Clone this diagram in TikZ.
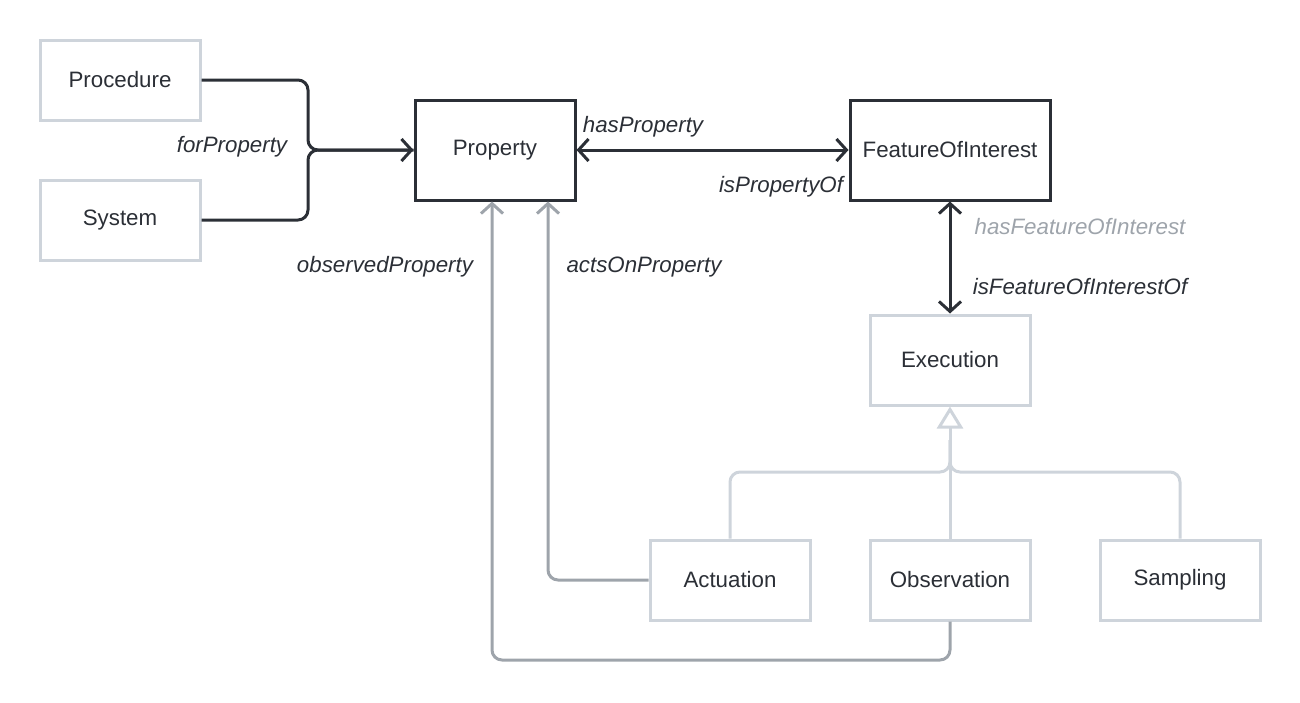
\documentclass[tikz,border=0pt]{standalone}
\usepackage{fontspec}
\setmainfont{Liberation Sans}
\usetikzlibrary{arrows.meta}
\definecolor{darkc}{HTML}{2B2F36}
\definecolor{lightc}{HTML}{CED4DB}
\definecolor{grayc}{HTML}{9EA4AB}
\tikzset{
  box/.style={draw=lightc, line width=3pt, fill=white, minimum width=160pt, minimum height=80pt, inner sep=0pt, text=darkc, font=\fontsize{22.3}{26}\selectfont},
  darkbox/.style={box, draw=darkc},
  lbl/.style={inner sep=0pt, text=darkc, font=\fontsize{22.3}{26}\selectfont\itshape},
  darkline/.style={draw=darkc, line width=3pt, rounded corners=10pt},
  grayline/.style={draw=grayc, line width=3pt, rounded corners=10pt},
  lightline/.style={draw=lightc, line width=3pt, rounded corners=10pt},
  barb/.style={-{Straight Barb[length=10pt,width=22pt]}},
  dbarb/.style={{Straight Barb[length=10pt,width=22pt]}-{Straight Barb[length=10pt,width=22pt]}},
}
\begin{document}
\begin{tikzpicture}[x=1pt,y=-1pt]
\useasboundingbox (0,0) rectangle (1300,702);
\node[box] (proc) at (120,80) {\raisebox{2pt}{Procedure}};
\node[box] (sys) at (120,220) {\raisebox{2pt}{System}};
\node[darkbox, minimum height=100pt] (prop) at (495,150) {Property};
\node[darkbox, minimum width=200pt, minimum height=100pt] (foi) at (950,150) {FeatureOfInterest};
\node[box, minimum height=90pt] (exec) at (950,360) {\raisebox{2pt}{Execution}};
\node[box] (act) at (730,580) {\raisebox{2pt}{Actuation}};
\node[box] (obs) at (950,580) {\raisebox{2pt}{Observation}};
\node[box] (samp) at (1180,580) {\raisebox{2pt}{Sampling}};

\coordinate (br) at (308,150);
\draw[darkline] (proc.east) -- (308,80) -- (br) -- (prop.west);
\draw[darkline, barb] (sys.east) -- (308,220) -- (br) -- (prop.west);
\draw[darkline, dbarb] (prop.east) -- (foi.west);
\draw[darkline, dbarb] (foi.south) -- (exec.north);

\coordinate (gj) at (950,472);
\draw[lightline] (act.north) -- (730,472) -- (gj) -- (950,440);
\draw[lightline] (samp.north) -- (1180,472) -- (gj) -- (950,440);
\draw[lightline, -{Triangle[open,fill=white,length=22pt,width=26pt]}] (obs.north) -- (exec.south);

\draw[grayline, barb] (act.west) -- (548,580) -- (prop.south -| 548,0);
\draw[grayline, barb] (obs.south) -- (950,660) -- (492,660) -- (prop.south -| 492,0);

\node[lbl] (lfor) at (232,147) {forProperty};
\node[lbl] (lhas) at (643,127) {hasProperty};
\node[lbl] (lisp) at (781,187) {isPropertyOf};
\node[lbl] (lobs) at (385,267) {observedProperty};
\node[lbl] (lact) at (644,267) {actsOnProperty};
\node[lbl, text=grayc] (lhf) at (1080,227) {hasFeatureOfInterest};
\node[lbl] (lisf) at (1080,287) {isFeatureOfInterestOf};
\end{tikzpicture}
\end{document}
